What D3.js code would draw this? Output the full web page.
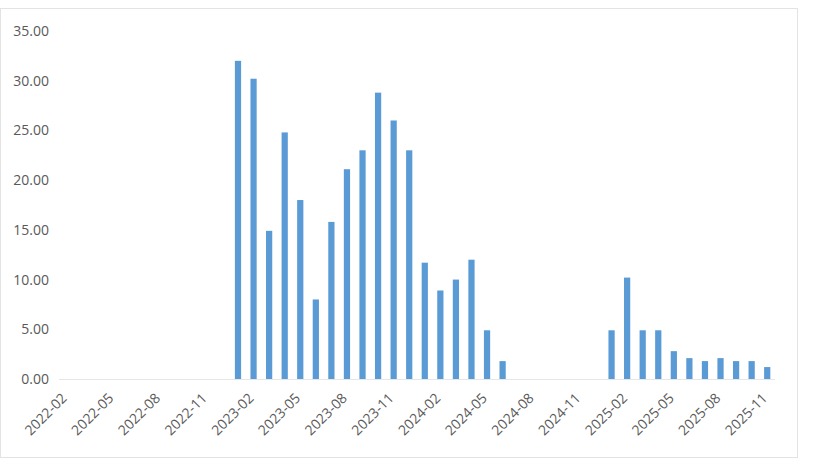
<!DOCTYPE html>
<html>
<head>
<meta charset="utf-8">
<script src="https://cdn.jsdelivr.net/npm/d3@7"></script>
<style>
  html, body { margin: 0; padding: 0; background: #fff; }
  svg { display: block; }
  text { font-family: "Open Sans", "Liberation Sans", sans-serif; }
</style>
</head>
<body>
<svg id="chart" width="830" height="468"></svg>
<script>
const months = [
  "2022-02","2022-03","2022-04","2022-05","2022-06","2022-07","2022-08","2022-09","2022-10","2022-11","2022-12",
  "2023-01","2023-02","2023-03","2023-04","2023-05","2023-06","2023-07","2023-08","2023-09","2023-10","2023-11","2023-12",
  "2024-01","2024-02","2024-03","2024-04","2024-05","2024-06","2024-07","2024-08","2024-09","2024-10","2024-11","2024-12",
  "2025-01","2025-02","2025-03","2025-04","2025-05","2025-06","2025-07","2025-08","2025-09","2025-10","2025-11"
];
const values = [
  null,null,null,null,null,null,null,null,null,null,null,
  32.0,30.2,14.9,24.8,18.0,8.0,15.8,21.1,23.0,28.8,26.0,23.0,
  11.7,8.9,10.0,12.0,4.9,1.8,null,null,null,null,null,null,
  4.9,10.2,4.9,4.9,2.8,2.1,1.8,2.1,1.8,1.8,1.2
];
const yTicks = [0,5,10,15,20,25,30,35];
const xLabelEvery = 3;

const svg = d3.select("#chart");
const margin = {left: 59, right: 55, top: 31, bottom: 89};
const W = 830, H = 468;

// chart area border
svg.append("rect")
  .attr("x", 0.5).attr("y", 8.5)
  .attr("width", 797).attr("height", 449)
  .attr("fill", "#fff").attr("stroke", "#e3e3e3").attr("stroke-width", 1);

const x = d3.scaleBand()
  .domain(months)
  .range([margin.left, W - margin.right])
  .paddingInner(0.6).paddingOuter(0.3);

const y = d3.scaleLinear()
  .domain([0, 35])
  .range([H - margin.bottom, margin.top]);

// baseline
svg.append("line")
  .attr("x1", margin.left).attr("x2", W - margin.right)
  .attr("y1", y(0) + 0.5).attr("y2", y(0) + 0.5)
  .attr("stroke", "#e6e6e6");

// y axis
const yAxis = svg.append("g")
  .attr("transform", `translate(${margin.left},0)`)
  .call(d3.axisLeft(y).tickValues(yTicks).tickFormat(d3.format(".2f")).tickSize(0).tickPadding(10));
yAxis.select(".domain").remove();
yAxis.selectAll("text").attr("fill", "#595959").style("font-size", "14px");

// bars
svg.append("g").selectAll("rect")
  .data(months.map((m, i) => ({m, v: values[i]})).filter(d => d.v != null))
  .join("rect")
  .attr("x", d => x(d.m))
  .attr("y", d => y(d.v))
  .attr("width", x.bandwidth())
  .attr("height", d => y(0) - y(d.v))
  .attr("fill", "#5b9bd5");

// x axis
const xAxis = svg.append("g")
  .attr("transform", `translate(0,${y(0)})`)
  .call(d3.axisBottom(x)
    .tickValues(months.filter((m, i) => i % xLabelEvery === 0))
    .tickSize(0).tickPadding(0));
xAxis.select(".domain").remove();
xAxis.selectAll("text")
  .attr("fill", "#595959")
  .style("font-size", "14px")
  .attr("text-anchor", "end")
  .attr("y", 0)
  .attr("dy", null)
  .attr("transform", "translate(1,20) rotate(-45)");
</script>
</body>
</html>
